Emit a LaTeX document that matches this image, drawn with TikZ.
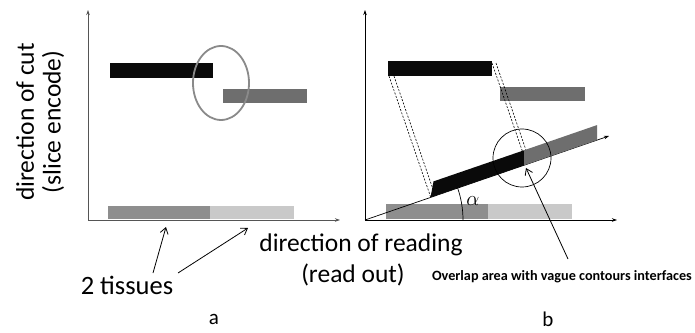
\documentclass[tikz,border=0pt]{standalone}
\usepackage{fontspec}
\setmainfont{Carlito}
\usetikzlibrary{arrows.meta,calc,shapes.geometric}
\begin{document}
\begin{tikzpicture}[x=1pt,y=1pt,
  axisline/.style={line width=0.8pt,-{Stealth[length=5pt,width=3.5pt]}},
  lbl/.style={inner sep=0pt,font=\fontsize{25.5}{28}\selectfont},
  small/.style={inner sep=0pt,font=\fontsize{21}{23}\selectfont},
  ptr/.style={line width=0.8pt,-{Straight Barb[length=6pt,width=8pt]}},
  proj/.style={dashed,dash pattern=on 2pt off 1.5pt,line width=0.6pt}]
\definecolor{blk}{HTML}{0A0A0A}
\definecolor{gbar}{HTML}{6E6E6E}
\definecolor{tdark}{HTML}{8E8E8E}
\definecolor{tlight}{HTML}{C9C9C9}
\definecolor{ell}{HTML}{8A8A8A}
\definecolor{axg}{HTML}{555555}
\useasboundingbox (0,0) rectangle (695,332);
\fill[white] (0,0) rectangle (695,332);
% ---------- panel a ----------
\coordinate (aO) at (88,112);
\coordinate (aY) at (88,322);
\coordinate (aX) at (340,112);
\fill[tdark] (108,113) rectangle (210,126);
\fill[tlight] (210,113) rectangle (294,126);
\draw[axisline,axg] (aO) -- (aY);
\draw[axisline,axg] (aO) -- (aX);
\fill[blk] (110,254) rectangle (213,269);
\fill[gbar] (223,229) rectangle (307,243);
\node[draw=ell,line width=1.8pt,ellipse,minimum width=56pt,minimum height=74pt,inner sep=0pt] (ell) at (221,249) {};
\node[lbl,rotate=90] (ylab1) at (25,210) {direction of cut};
\node[lbl,rotate=90] (ylab2) at (53,210) {(slice encode)};
\node[lbl,font=\fontsize{26.5}{28}\selectfont] (tis) at (127,47) {2 tissues};
\coordinate (t1) at (166,105);
\coordinate (t2) at (248,104);
\draw[ptr] (153,59) -- (t1);
\draw[ptr] (178,59) -- (t2);
\node[lbl] (xl1) at (361,87) {direction of reading};
\node[lbl] (xl2) at (353,57) {(read out)};
\node[small] (la) at (214,13) {a};
% ---------- panel b ----------
\coordinate (bO) at (365,112);
\coordinate (bY) at (365,322);
\coordinate (bX) at (617,112);
\coordinate (bT) at (609,196);
\fill[tdark] (386,113) rectangle (488,128);
\fill[tlight] (488,113) rectangle (572,128);
\draw[axisline] (bO) -- (bY);
\draw[axisline] (bO) -- (bX);
\fill[blk] (388,256) rectangle (492,271);
\fill[gbar] (500,231) rectangle (585,245);
\coordinate (p1) at (389,256);
\coordinate (p2) at (394,256);
\coordinate (p3) at (492,269);
\coordinate (p4) at (496,269);
\draw[proj] (p1) -- ($(bO)!(p1)!(bT)$);
\draw[proj] (p2) -- ($(bO)!(p2)!(bT)$);
\draw[proj] (p3) -- ($(bO)!(p3)!(bT)$);
\draw[proj] (p4) -- ($(bO)!(p4)!(bT)$);
\draw[line width=0.7pt,-{Stealth[length=5pt,width=3.5pt]}] (bO) -- (bT);
\fill[blk] (430.5,134.6) -- (524,166.7) -- (524,181.7) -- (433.5,150.6) -- cycle;
\fill[gbar] (524,166.7) -- (597,191.9) -- (597,206.9) -- (524,181.7) -- cycle;
\draw[line width=0.7pt] (463,112) arc[start angle=0,end angle=19,radius=98];
\node[inner sep=0pt,font=\fontsize{20}{20}\selectfont] (alpha) at (473,131) {$\alpha$};
\node[draw,circle,line width=0.7pt,minimum size=58pt,inner sep=0pt] (circ) at (522,174) {};
\coordinate (tip) at (526,164);
\draw[ptr] (568,73) -- (tip);
\node[inner sep=0pt,font=\bfseries\fontsize{14.2}{16}\selectfont] (ov) at (562,55) {Overlap area with vague contours interfaces};
\node[small] (lb) at (548,13) {b};
\end{tikzpicture}
\end{document}
